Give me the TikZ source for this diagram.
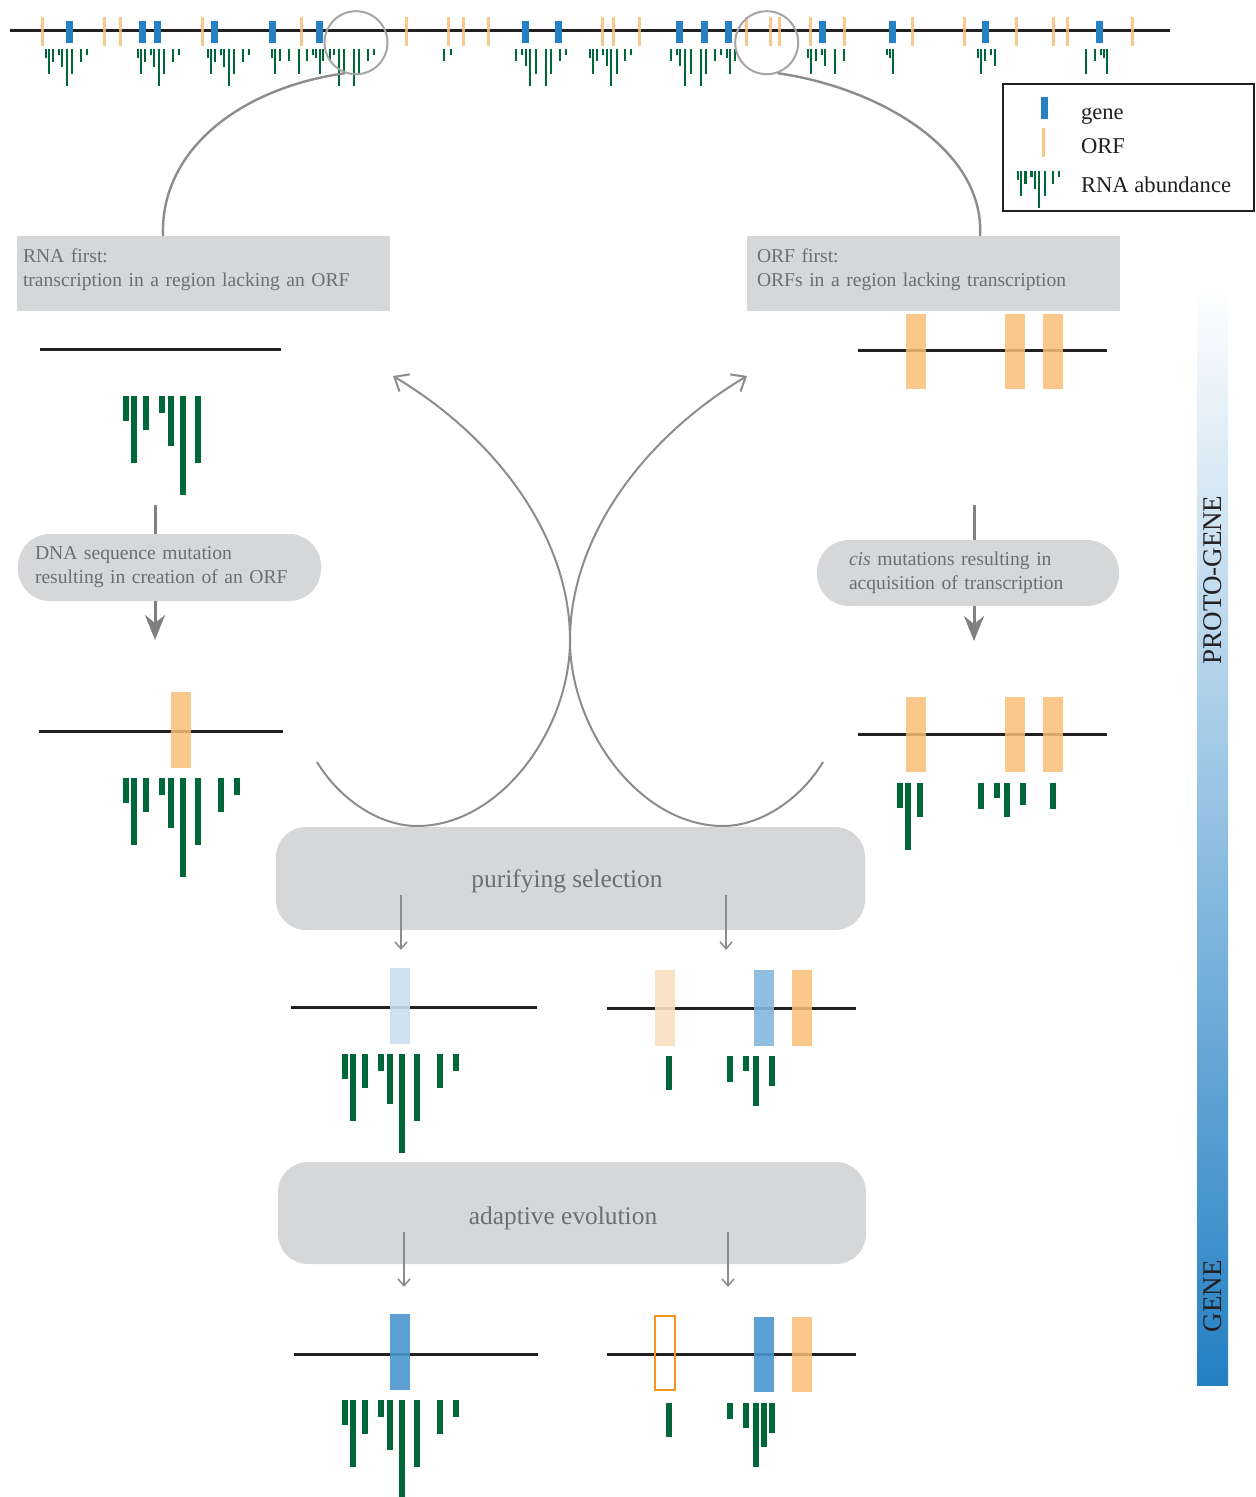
\documentclass[tikz,border=0pt]{standalone}
\usepackage{fontspec}
\setmainfont{Liberation Serif}
\usetikzlibrary{arrows.meta}

\definecolor{dnaline}{RGB}{35,31,32}
\definecolor{orfcol}{RGB}{250,190,120}
\definecolor{genecol}{RGB}{37,129,196}
\definecolor{rnacol}{RGB}{0,104,56}
\definecolor{boxfill}{RGB}{214,215,217}
\definecolor{boxtext}{RGB}{109,110,113}
\definecolor{arcgrey}{RGB}{140,140,142}
\definecolor{lensgrey}{RGB}{165,165,167}
\definecolor{arrowgrey}{RGB}{128,128,130}
\definecolor{paleblue}{RGB}{198,222,241}
\definecolor{midblue}{RGB}{132,183,222}
\definecolor{deepblue}{RGB}{74,151,208}
\definecolor{paleorf}{RGB}{251,224,194}
\definecolor{orfedge}{RGB}{247,148,30}
\definecolor{barbottom}{RGB}{36,128,196}

% RNA profile: x, top y, scale, list of dx/length
\newcommand{\rnabars}[4]{%
  \foreach \dx/\len in #4
    \fill[rna] ({#1+#3*\dx},#2) rectangle ++({#3*6},{#3*\len});}
\newcommand{\fullprofile}{0/25,8/67,20/34,36/17,45/50,57/99,72/67,95/34,111/17}

\begin{document}
\begin{tikzpicture}[x=0.5pt,y=0.5pt,yscale=-1,
  genome/.style={draw=dnaline, line width=1.5pt},
  orf/.style={fill=orfcol, fill opacity=0.85},
  gene/.style={fill=genecol},
  rna/.style={fill=rnacol},
  lens/.style={circle, draw=lensgrey, line width=1pt, minimum size=31.5pt, inner sep=0pt},
  linkarc/.style={draw=arcgrey, line width=1.2pt},
  squarebox/.style={fill=boxfill, minimum width=186.5pt, minimum height=37.5pt},
  boxlabel/.style={text=boxtext, font=\fontsize{9.8}{12}\selectfont, align=left, inner sep=0pt},
  pillbox/.style={fill=boxfill, text=boxtext, font=\fontsize{9.8}{12}\selectfont, align=left, inner ysep=0pt, rounded corners=16pt},
  stagebox/.style={fill=boxfill, rounded corners=15pt, minimum width=294.5pt, minimum height=51.5pt},
  stagetext/.style={text=boxtext, font=\fontsize{12.7}{15}\selectfont},
  steparrow/.style={draw=arrowgrey, line width=1.5pt},
  swoop/.style={draw=arcgrey, line width=1pt, -{Straight Barb[length=6pt,width=10pt]}},
  selarrow/.style={draw=arcgrey, line width=0.75pt, -{Straight Barb[length=3.5pt,width=6pt]}},
  legendtext/.style={anchor=west, font=\fontsize{11.3}{13}\selectfont, text=dnaline},
  sidetext/.style={rotate=90, font=\fontsize{13.5}{16}\selectfont, text=dnaline}]
\useasboundingbox (0,0) rectangle (1255,1497);

% genome overview
\draw[genome] (10,31) -- (1170,31);
\foreach \x in {42,104,120,202,301,406,448.3,463,488.7,602.7,613.3,639,746.7,770,779.3,810.3,844.3,912.7,964.3,1016.3,1053.3,1067.7,1132.3}
  \fill[orf] (\x-1.5,17) rectangle (\x+1.5,46);
\foreach \x in {69,142,157,214,272,319,525.7,558,679,704.7,728,822.3,892.3,985,1099.7}
  \fill[gene] (\x-3.5,21) rectangle (\x+3.5,43);
\rnabars{44.6}{49}{0.37}{\fullprofile}
\rnabars{136.6}{49}{0.37}{\fullprofile}
\rnabars{206.6}{49}{0.37}{\fullprofile}
\foreach \x/\len in {271.7/9,274.7/25,279.7/12,288.7/12,299.3/25,306.7/12,312.7/6,315.7/9,319.7/25,322.7/12,329.7/12,333.7/6,338.7/37,343.7/25,353.7/37,358.7/25,367.7/12,373.7/6,
    444.3/12,450.7/6,
    516/12,522/6,526/17,530/37,536/25,546/37,551/25,560/12,566/6,
    589.7/9,592.7/25,596.7/12,602.7/6,606.7/17,610.7/37,616.7/25,624.7/12,630.7/6,
    670.7/12,676.7/6,679.7/17,684.7/37,690.7/25,700.7/37,705.7/25,714.7/12,720.7/6,726.7/9,729.7/25,734.7/12,
    807.7/9,810.7/25,815.7/12,821.7/6,824.7/17,834.7/25,843.7/12,
    886.7/6,889.7/9,892.7/25,
    977.7/9,980.7/25,984.7/12,990.7/6,994.7/17,
    1085.7/25,1094.7/12,1100.7/6,1103.7/9,1106.7/25}
  \fill[rna] (\x-1.1,49) rectangle ++(2.2,\len);
\node[lens] (lensL) at (356,42.7) {};
\node[lens] (lensR) at (766.7,42.7) {};

% legend
\draw[draw=dnaline, line width=1pt] (1003,84) rectangle (1254,211);
\fill[gene] (1041,97) rectangle (1048,119);
\fill[orf] (1042,128) rectangle (1045,157);
\rnabars{1017}{171}{0.37}{\fullprofile}
\node[legendtext] (leggene) at (1074,116) {gene};
\node[legendtext] (legorf) at (1074,146) {ORF};
\node[legendtext] (legrna) at (1074,185) {RNA abundance};

% two routes
\node[squarebox] (rnafirst) at (203.5,273.5) {};
\node[squarebox] (orffirst) at (933.5,273.5) {};
\node[boxlabel, text width=180.5pt] (rnafirstlab) at (203.5,269.5) {RNA first:\\transcription in a region lacking an ORF};
\node[boxlabel, text width=176.5pt] (orffirstlab) at (933.5,269.5) {ORF first:\\ORFs in a region lacking transcription};
\coordinate (arcL) at (163,236);
\coordinate (arcR) at (980,236);
\draw[linkarc] (lensL.250) .. controls (240,88) and (160,150) .. (arcL);
\draw[linkarc] (lensR.290) .. controls (880,88) and (985,150) .. (arcR);

% RNA first
\draw[genome] (40,350) -- (281,350);
\rnabars{123}{396}{1}{{0/25,8/67,20/34,36/17,45/50,57/99,72/67}}
\node[pillbox, inner xsep=8.5pt, text width=134.5pt, minimum height=33.5pt] (mutation) at (169.5,567.5) {DNA sequence mutation\\resulting in creation of an ORF};
\coordinate (rnaA) at (155,505);
\coordinate (orfA) at (155,640);
\draw[steparrow] (rnaA) -- (rnaA |- mutation.north);
\draw[steparrow, -{Stealth[length=12.5pt,width=10pt]}] (rnaA |- mutation.south) -- (orfA);
\draw[genome] (39,731) -- (283,731);
\fill[orf] (171,692) rectangle (191,768);
\rnabars{123}{778}{1}{\fullprofile}

% ORF first
\draw[genome] (858,351) -- (1107,351);
\foreach \x in {906,1005,1043}
  \fill[orf] (\x,314) rectangle (\x+20,389);
\node[pillbox, inner xsep=16pt, text width=119pt, minimum height=33pt] (cismut) at (968,573) {\textit{cis} mutations resulting in\\acquisition of transcription};
\coordinate (cisA) at (974,505);
\coordinate (orfB) at (974,641);
\draw[steparrow] (cisA) -- (cisA |- cismut.north);
\draw[steparrow, -{Stealth[length=12.5pt,width=10pt]}] (cisA |- cismut.south) -- (orfB);
\draw[genome] (858,734) -- (1107,734);
\foreach \x in {906,1005,1043}
  \fill[orf] (\x,697) rectangle (\x+20,772);
\rnabars{0}{783}{1}{{897/25,905/67,917/34,978/26,994/15,1004/34,1020/22,1050/26}}

% crossing arrows
\coordinate (swL0) at (317,762);
\coordinate (swL1) at (393,376);
\coordinate (swR0) at (823,762);
\coordinate (swR1) at (747,376);
\draw[swoop] (swL0) .. controls (340,800) and (380,826) .. (417,826) .. controls (500,826) and (570,730) .. (570,640) .. controls (570,540) and (500,440) .. (swL1);
\draw[swoop] (swR0) .. controls (800,800) and (760,826) .. (723,826) .. controls (640,826) and (570,730) .. (570,640) .. controls (570,540) and (640,440) .. (swR1);

% purifying selection
\node[stagebox] (purify) at (570.5,878.5) {};
\node[stagetext] (purifylab) at (567,881) {purifying selection};
\coordinate (purL) at (401,895);
\coordinate (purLend) at (401,950);
\coordinate (purR) at (726,895);
\coordinate (purRend) at (726,950);
\draw[selarrow] (purL) -- (purLend);
\draw[selarrow] (purR) -- (purRend);
\draw[genome] (291,1007) -- (537,1007);
\fill[paleblue, fill opacity=0.9] (390,968) rectangle (410,1044);
\rnabars{342}{1054}{1}{\fullprofile}
\draw[genome] (607,1008) -- (856,1008);
\fill[paleorf, fill opacity=0.9] (655,970) rectangle (675,1046);
\fill[midblue, fill opacity=0.9] (754,970) rectangle (774,1046);
\fill[orf] (792,970) rectangle (812,1046);
\rnabars{0}{1056}{1}{{666/34,727/26,743/15,753/50,769/30}}

% adaptive evolution
\node[stagebox, minimum width=294pt, minimum height=51pt] (adapt) at (572,1213) {};
\node[stagetext] (adaptlab) at (563,1218) {adaptive evolution};
\coordinate (adaL) at (404,1232);
\coordinate (adaLend) at (404,1287);
\coordinate (adaR) at (728,1232);
\coordinate (adaRend) at (728,1287);
\draw[selarrow] (adaL) -- (adaLend);
\draw[selarrow] (adaR) -- (adaRend);
\draw[genome] (294,1354) -- (538,1354);
\fill[deepblue, fill opacity=0.9] (390,1314) rectangle (410,1390);
\rnabars{342}{1400}{1}{\fullprofile}
\draw[genome] (607,1354) -- (856,1354);
\draw[orfedge, line width=1pt] (655,1316) rectangle (675,1390);
\fill[deepblue, fill opacity=0.9] (754,1317) rectangle (774,1392);
\fill[orf] (792,1317) rectangle (812,1392);
\rnabars{0}{1403}{1}{{666/34,727/16,743/25,753/64,761/44,769/30}}

% proto-gene to gene scale
\shade[top color=white, bottom color=barbottom] (1197,282) rectangle (1228,1385);
\node[sidetext] (protolab) at (1213,580) {PROTO-GENE};
\node[sidetext] (genelab) at (1213,1296) {GENE};
\end{tikzpicture}
\end{document}
